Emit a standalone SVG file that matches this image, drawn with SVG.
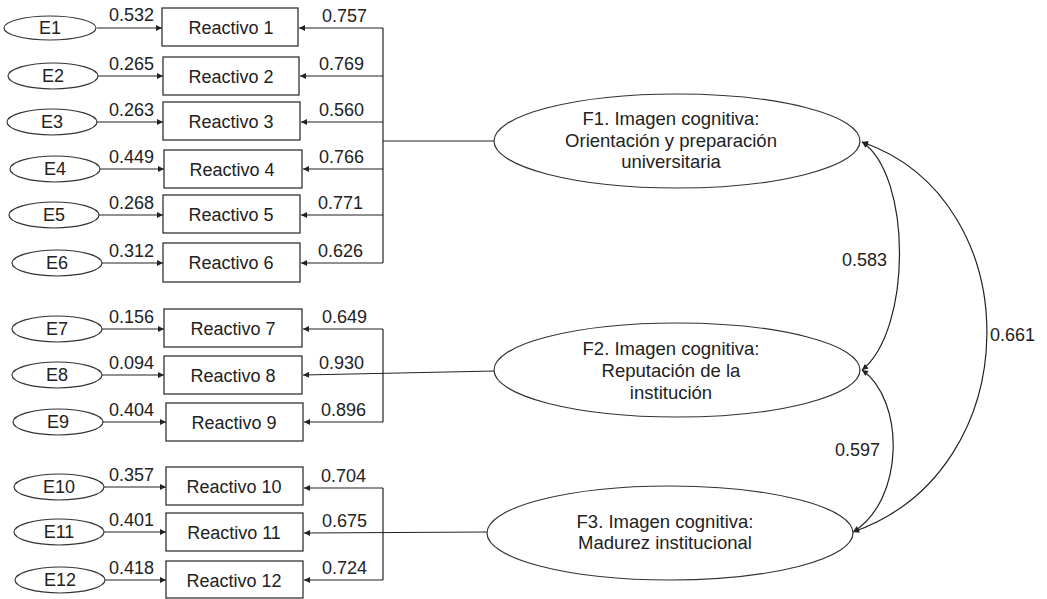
<svg xmlns="http://www.w3.org/2000/svg" width="1047" height="599" viewBox="0 0 1047 599">
<defs>
<marker id="arr" viewBox="0 0 10 10" refX="10" refY="5" markerWidth="8" markerHeight="6" orient="auto-start-reverse" markerUnits="userSpaceOnUse">
<path d="M0,0 L10,5 L0,10 z" fill="#222"/>
</marker>
</defs>
<style>
text{font-family:"Liberation Sans",Arial,sans-serif;fill:#222}
.t{font-size:18px}
.f{font-size:18.5px;text-anchor:middle}
.c{text-anchor:middle;font-size:18px}
.e{fill:#fff;stroke:#333;stroke-width:1.2}
.b{fill:#fff;stroke:#333;stroke-width:1.3}
.l{fill:none;stroke:#222;stroke-width:1.2}
.a{fill:none;stroke:#222;stroke-width:1.2;marker-end:url(#arr)}
.d{fill:none;stroke:#222;stroke-width:1.2;marker-start:url(#arr);marker-end:url(#arr)}
</style>
<rect width="1047" height="599" fill="#fff"/>

<g id="connectors">
<line class="a" x1="97" y1="28" x2="162" y2="28"/>
<line class="a" x1="98" y1="76" x2="163" y2="76"/>
<line class="a" x1="97" y1="122" x2="163" y2="122"/>
<line class="a" x1="100" y1="169" x2="164" y2="169"/>
<line class="a" x1="99" y1="215" x2="163" y2="215"/>
<line class="a" x1="102" y1="263" x2="163" y2="263"/>
<line class="a" x1="102" y1="329" x2="164" y2="329"/>
<line class="a" x1="102" y1="375" x2="164" y2="375"/>
<line class="a" x1="103" y1="422" x2="166" y2="422"/>
<line class="a" x1="104" y1="487" x2="166" y2="487"/>
<line class="a" x1="104" y1="532" x2="166" y2="532"/>
<line class="a" x1="105" y1="580" x2="166" y2="580"/>

<line class="l" x1="383" y1="28" x2="383" y2="263"/>
<line class="a" x1="383" y1="28" x2="299" y2="28"/>
<line class="a" x1="383" y1="76" x2="300" y2="76"/>
<line class="a" x1="383" y1="122" x2="301" y2="122"/>
<line class="a" x1="383" y1="169" x2="303" y2="169"/>
<line class="a" x1="383" y1="215" x2="301" y2="215"/>
<line class="a" x1="383" y1="263" x2="301" y2="263"/>
<line class="l" x1="495" y1="141" x2="383" y2="141"/>

<line class="l" x1="383" y1="329" x2="383" y2="422"/>
<line class="a" x1="383" y1="329" x2="303" y2="329"/>
<line class="a" x1="495" y1="371" x2="303" y2="375"/>
<line class="a" x1="383" y1="422" x2="304" y2="422"/>

<line class="l" x1="383" y1="488" x2="383" y2="580"/>
<line class="a" x1="383" y1="488" x2="304" y2="488"/>
<line class="a" x1="487" y1="532" x2="304" y2="533"/>
<line class="a" x1="383" y1="580" x2="304" y2="580"/>

<path class="d" d="M862,142 C912,175 912,330 862,370"/>
<path class="d" d="M862,370 C905,400 905,500 853,532"/>
<path class="d" d="M862,142 C1030,200 1030,470 853,532"/>

<text class="t" x="109" y="21">0.532</text>
<text class="t" x="109" y="70">0.265</text>
<text class="t" x="109" y="116">0.263</text>
<text class="t" x="109" y="163">0.449</text>
<text class="t" x="109" y="209">0.268</text>
<text class="t" x="109" y="257">0.312</text>
<text class="t" x="109" y="323">0.156</text>
<text class="t" x="109" y="369">0.094</text>
<text class="t" x="109" y="416">0.404</text>
<text class="t" x="109" y="481">0.357</text>
<text class="t" x="109" y="526">0.401</text>
<text class="t" x="109" y="574">0.418</text>

<text class="t" x="322" y="22">0.757</text>
<text class="t" x="319" y="70">0.769</text>
<text class="t" x="319" y="116">0.560</text>
<text class="t" x="319" y="163">0.766</text>
<text class="t" x="318" y="209">0.771</text>
<text class="t" x="318" y="257">0.626</text>
<text class="t" x="322" y="323">0.649</text>
<text class="t" x="319" y="369">0.930</text>
<text class="t" x="321" y="416">0.896</text>
<text class="t" x="321" y="482">0.704</text>
<text class="t" x="322" y="527">0.675</text>
<text class="t" x="322" y="574">0.724</text>

<text class="t" x="842" y="266">0.583</text>
<text class="t" x="835" y="456">0.597</text>
<text class="t" x="990" y="341">0.661</text>
</g>

<g id="E1"><ellipse class="e" cx="50" cy="28" rx="46" ry="12"/><text class="c" x="50" y="34">E1</text></g>
<g id="E2"><ellipse class="e" cx="53" cy="76" rx="45" ry="13"/><text class="c" x="53" y="82">E2</text></g>
<g id="E3"><ellipse class="e" cx="52" cy="122" rx="45" ry="13"/><text class="c" x="52" y="128">E3</text></g>
<g id="E4"><ellipse class="e" cx="55" cy="169" rx="45" ry="13"/><text class="c" x="55" y="175">E4</text></g>
<g id="E5"><ellipse class="e" cx="54" cy="215" rx="45" ry="13"/><text class="c" x="54" y="221">E5</text></g>
<g id="E6"><ellipse class="e" cx="57" cy="263" rx="45" ry="13"/><text class="c" x="57" y="269">E6</text></g>
<g id="E7"><ellipse class="e" cx="57" cy="329" rx="45" ry="13"/><text class="c" x="57" y="335">E7</text></g>
<g id="E8"><ellipse class="e" cx="57" cy="375" rx="45" ry="13"/><text class="c" x="57" y="381">E8</text></g>
<g id="E9"><ellipse class="e" cx="58" cy="422" rx="45" ry="13"/><text class="c" x="58" y="428">E9</text></g>
<g id="E10"><ellipse class="e" cx="59" cy="487" rx="45" ry="13"/><text class="c" x="59" y="493">E10</text></g>
<g id="E11"><ellipse class="e" cx="59" cy="532" rx="45" ry="13"/><text class="c" x="59" y="538">E11</text></g>
<g id="E12"><ellipse class="e" cx="60" cy="580" rx="45" ry="13"/><text class="c" x="60" y="586">E12</text></g>

<g id="R1"><rect class="b" x="162" y="8" width="136" height="38"/><text class="c" x="231" y="34">Reactivo 1</text></g>
<g id="R2"><rect class="b" x="163" y="57" width="136" height="38"/><text class="c" x="231" y="83">Reactivo 2</text></g>
<g id="R3"><rect class="b" x="163" y="102" width="137" height="38"/><text class="c" x="231" y="128">Reactivo 3</text></g>
<g id="R4"><rect class="b" x="164" y="150" width="138" height="38"/><text class="c" x="232" y="176">Reactivo 4</text></g>
<g id="R5"><rect class="b" x="163" y="195" width="137" height="38"/><text class="c" x="231" y="221">Reactivo 5</text></g>
<g id="R6"><rect class="b" x="163" y="243" width="137" height="39"/><text class="c" x="231" y="269">Reactivo 6</text></g>
<g id="R7"><rect class="b" x="164" y="309" width="138" height="38"/><text class="c" x="233" y="335">Reactivo 7</text></g>
<g id="R8"><rect class="b" x="164" y="356" width="138" height="38"/><text class="c" x="233" y="382">Reactivo 8</text></g>
<g id="R9"><rect class="b" x="166" y="403" width="137" height="38"/><text class="c" x="234" y="429">Reactivo 9</text></g>
<g id="R10"><rect class="b" x="166" y="467" width="137" height="38"/><text class="c" x="234" y="493">Reactivo 10</text></g>
<g id="R11"><rect class="b" x="166" y="513" width="137" height="38"/><text class="c" x="234" y="539">Reactivo 11</text></g>
<g id="R12"><rect class="b" x="166" y="561" width="137" height="37"/><text class="c" x="234" y="587">Reactivo 12</text></g>

<g id="F1"><ellipse class="e" cx="677" cy="141" rx="183" ry="47"/>
<text class="f" x="671" y="125">F1. Imagen cognitiva:</text>
<text class="f" x="671" y="147">Orientación y preparación</text>
<text class="f" x="671" y="168">universitaria</text></g>
<g id="F2"><ellipse class="e" cx="677" cy="370" rx="183" ry="47"/>
<text class="f" x="671" y="355">F2. Imagen cognitiva:</text>
<text class="f" x="671" y="377">Reputación de la</text>
<text class="f" x="671" y="399">institución</text></g>
<g id="F3"><ellipse class="e" cx="670" cy="533" rx="183" ry="47"/>
<text class="f" x="665" y="528">F3. Imagen cognitiva:</text>
<text class="f" x="665" y="549">Madurez institucional</text></g>
</svg>
